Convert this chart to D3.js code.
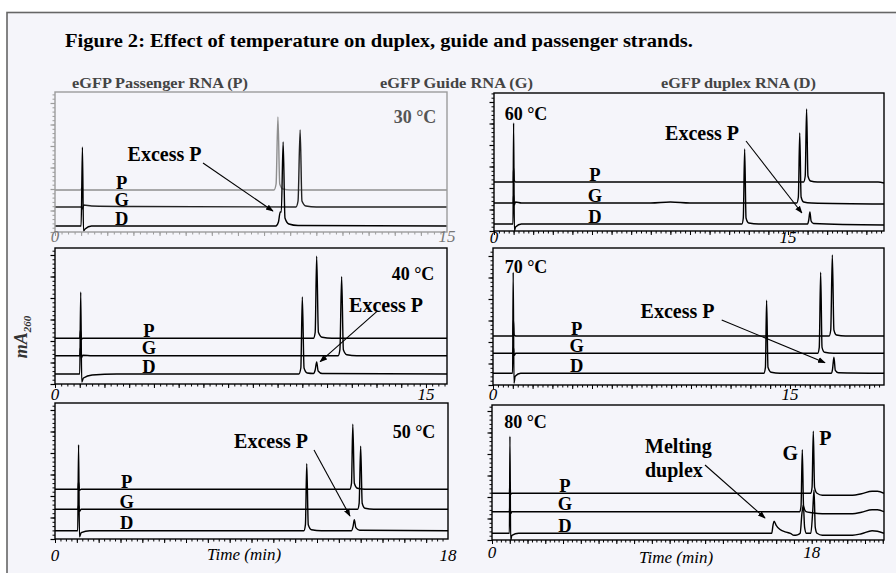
<!DOCTYPE html>
<html><head><meta charset="utf-8">
<script src="https://cdn.jsdelivr.net/npm/d3@7"></script>
<style>body{margin:0;background:#fff}svg{display:block}</style>
</head><body>
<script>
// ---------------- DATA ----------------
const titleText = "Figure 2: Effect of temperature on duplex, guide and passenger strands.";
const headerTexts = ["eGFP Passenger RNA (P)", "eGFP Guide RNA (G)", "eGFP duplex RNA (D)"];
const temps = ["30 °C", "40 °C", "50 °C", "60 °C", "70 °C", "80 °C"];
const strandNames = ["P", "G", "D"];
const timeMax = [15, 15.85, 18, 19.9, 19.75, 22.07];        // min, x extent of each panel
const yMax = [140, 136, 136, 138, 137, 135];                // mA260 (arb.), y extent of each panel
const xTickValues = [[0, 15], [0, 15], [0, 18], [0, 15], [0, 15], [0, 18]];
const xTickLabels = [["0", "15"], ["0", "15"], ["0", "18"], ["0", "15"], ["0", "15"], ["0", "18"]];
const xAxisTitle = "Time (min)";
const yAxisTitle = ["mA", "260"];
// baseline offsets of P, G, D traces in each panel
const baselines = [[42, 25, 6], [45.7, 28.3, 10], [49.7, 29.7, 8.3], [49, 28, 7], [49, 31.7, 11.7], [46.7, 28.3, 6.7]];

// chromatogram traces: [time (min), signal above its own baseline]
const t30_P = [[0,0],[0.98,0],[1.03,2],[1.08,0],[8.38,0],[8.46,6],[8.53,73],[8.6,6],[8.72,1],[9.0,0],[15,0]];
const t30_G = [[0,0],[1.0,0],[1.04,-2],[1.1,2],[1.4,1],[3,0.5],[9.22,0],[9.3,6],[9.38,77],[9.45,6],[9.6,1],[10,0],[15,0]];
const t30_D = [[0,0],[1.0,0],[1.05,79],[1.09,-5],[1.15,-3],[1.4,0],[8.45,0],[8.55,4],[8.62,14],[8.66,14],[8.73,84],[8.8,8],[8.95,2],[9.3,0.5],[15,0]];

const t40_P = [[0,0],[1.0,0],[1.03,8],[1.07,-1],[1.12,0],[10.45,0],[10.52,6],[10.58,82],[10.65,6],[10.8,1],[11.2,0],[15.85,0]];
const t40_G = [[0,0],[1.0,0],[1.03,8],[1.07,-2],[1.12,0.5],[1.5,0],[11.45,0],[11.52,6],[11.59,79],[11.66,6],[11.8,1],[12.2,0],[15.85,0]];
const t40_D = [[0,0],[1.0,0],[1.04,82],[1.08,-8],[1.15,-4],[1.5,-1],[2.5,0],[9.86,0],[9.94,6],[10.0,77],[10.07,6],[10.2,1],[10.45,0.5],[10.52,4],[10.58,12],[10.64,3],[10.8,0.5],[15.85,0]];

const t50_P = [[0,0],[1.05,0],[1.08,7],[1.12,-1],[1.2,0],[13.5,0],[13.58,6],[13.64,65],[13.71,6],[13.85,1],[14.2,0],[18,0]];
const t50_G = [[0,0],[1.05,0],[1.08,4],[1.12,-2],[1.2,0],[13.86,0],[13.93,6],[14.0,63],[14.07,6],[14.2,1],[14.6,0],[18,0]];
const t50_D = [[0,0],[1.04,0],[1.08,86],[1.12,-6],[1.2,-2],[1.6,0],[11.4,0],[11.47,6],[11.53,67],[11.6,6],[11.75,1],[12.2,0],[13.58,0],[13.65,4],[13.71,11],[13.78,3],[13.95,0.5],[18,0]];

const t60_P = [[0,0],[0.98,0],[1.0,14],[1.03,2],[1.1,0],[15.8,0],[15.88,6],[15.95,73],[16.02,6],[16.15,1],[16.5,0],[19.6,0],[19.9,-1]];
const t60_G = [[0,0],[0.98,0],[1.0,8],[1.03,-2],[1.1,1],[1.4,0],[8,0],[9,1],[10,0],[15.45,0],[15.53,6],[15.6,70],[15.67,6],[15.8,1],[16.2,0],[19.9,-1]];
const t60_D = [[0,0],[0.97,0],[1.0,101],[1.04,-7],[1.1,-3],[1.4,0],[12.65,0],[12.72,6],[12.79,75],[12.86,6],[13.0,1],[13.5,0],[16.0,0],[16.06,4],[16.12,12],[16.18,3],[16.3,0.5],[19.9,-1]];

const t70_P = [[0,0],[1.0,0],[1.03,16],[1.07,1],[1.15,0],[16.98,0],[17.06,6],[17.14,81],[17.22,6],[17.35,1],[17.8,0],[19.75,0]];
const t70_G = [[0,0],[1.0,0],[1.03,6],[1.07,-2],[1.15,0],[16.4,0],[16.48,6],[16.55,81],[16.62,6],[16.75,1],[17.2,0],[19.75,0]];
const t70_D = [[0,0],[0.99,0],[1.02,101],[1.06,-10],[1.12,-3],[1.4,0],[13.68,0],[13.76,6],[13.82,73],[13.89,6],[14.05,1],[14.5,0],[17.08,0],[17.15,4],[17.22,16],[17.29,3],[17.45,0.5],[19.75,0]];

const t80_P = [[0,0],[0.98,0],[1.01,11],[1.05,-1],[1.12,0],[17.95,0],[18.02,6],[18.09,62],[18.16,6],[18.3,0],[18.6,-2],[20.3,-2],[20.8,-0.5],[21.4,2],[21.7,2],[22.07,0]];
const t80_G = [[0,0],[0.98,0],[1.01,7],[1.05,-2],[1.12,0],[17.33,0],[17.4,6],[17.47,62],[17.54,6],[17.68,0],[18.0,-1],[18.6,-2],[20.3,-2],[20.8,-0.5],[21.4,2],[21.7,2],[22.07,0]];
const t80_D = [[0,0],[0.98,0],[1.01,97],[1.05,-7],[1.12,-2],[1.5,0],[15.75,0],[15.82,8],[15.88,12],[16.0,8],[16.2,4],[16.5,1.5],[16.8,0],[17.0,-2],[17.2,-1.5],[17.35,0],[17.45,20],[17.53,28],[17.6,6],[17.7,0],[17.95,0],[18.05,20],[18.13,43],[18.2,6],[18.3,0],[18.6,-2],[20.3,-2],[20.8,-0.5],[21.4,2.5],[21.7,2],[22.07,0]];

const traces = [[t30_P,t30_G,t30_D],[t40_P,t40_G,t40_D],[t50_P,t50_G,t50_D],[t60_P,t60_G,t60_D],[t70_P,t70_G,t70_D],[t80_P,t80_G,t80_D]];

// annotations: label text and arrow tip in data coords [time, signal]
const annoTexts = [["Excess P"],["Excess P"],["Excess P"],["Excess P"],["Excess P"],["Melting","duplex"]];
const arrowTips = [[8.34,21],[10.72,22.3],[13.51,23],[15.71,18],[16.77,22.3],[15.37,22]];
const strandLabelTime = [2.55, 3.8, 3.28, 5.15, 4.23, 4.11];
const peakLabels80 = ["G","P"];

// ---------------- LAYOUT ----------------
const W = 896, H = 573;
const layout = [
  {x:55, y:92, w:392, h:140, tempXY:[415,123], annoXY:[[164.5,160.5]], arrowFrom:[203,163], tickY:242},
  {x:55, y:248, w:392, h:136, tempXY:[413,279.5], annoXY:[[386,311.5]], arrowFrom:[376.7,311.7], tickY:400},
  {x:55, y:403, w:393, h:136, tempXY:[414,438], annoXY:[[271,448]], arrowFrom:[314,450], tickY:561, titleT:8.66, titleY:560},
  {x:494, y:93, w:390, h:138, tempXY:[526,119.5], annoXY:[[702,139.5]], arrowFrom:[746,141], tickY:243},
  {x:493, y:248, w:391, h:137, tempXY:[526,273], annoXY:[[677.5,318]], arrowFrom:[721.7,320], tickY:400},
  {x:492, y:405, w:392, h:135, tempXY:[525.5,428], annoXY:[[645,453],[645,476.5]], annoAnchor:"start", arrowFrom:[705,465], tickY:558, titleT:10.36, titleY:563}
];
const serif = "'Liberation Serif','Times New Roman',serif";

const svg = d3.select("body").append("svg").attr("width", W).attr("height", H);
svg.append("rect").attr("width", W).attr("height", H).attr("fill", "#fff");
svg.append("rect").attr("x", 7).attr("y", 12.5).attr("width", W + 20).attr("height", H + 20)
  .attr("fill", "#f5f5fa").attr("stroke", "#666").attr("stroke-width", 1.6);

const defs = svg.append("defs");
defs.append("marker").attr("id", "ah").attr("viewBox", "0 0 10 10").attr("refX", 9).attr("refY", 5)
  .attr("markerWidth", 7).attr("markerHeight", 7).attr("orient", "auto")
  .append("path").attr("d", "M0,1.2L10,5L0,8.8Z").attr("fill", "#000");

svg.append("text").attr("x", 65).attr("y", 47).text(titleText)
  .attr("textLength", 628).attr("lengthAdjust", "spacingAndGlyphs")
  .attr("font-family", serif).attr("font-weight", "bold").attr("font-size", 18.5).attr("fill", "#000");

const headerX = [72, 380, 661];
const headerLen = [176, 153, 155];
headerTexts.forEach((t, i) => {
  svg.append("text").attr("x", headerX[i]).attr("y", 88).text(t)
    .attr("textLength", headerLen[i]).attr("lengthAdjust", "spacingAndGlyphs")
    .attr("font-family", serif).attr("font-weight", "bold").attr("font-size", 15).attr("fill", "#444");
});

// y axis title
const yt = svg.append("text").attr("transform", "translate(27,337) rotate(-90)").attr("text-anchor", "middle")
  .attr("font-family", serif).attr("font-weight", "bold").attr("font-style", "italic").attr("fill", "#333");
yt.append("tspan").attr("font-size", 18).text(yAxisTitle[0]);
yt.append("tspan").attr("font-size", 11).attr("dy", 4).text(yAxisTitle[1]);

traces.forEach((tr, i) => {
  const L = layout[i];
  const g = svg.append("g").attr("transform", `translate(${L.x},${L.y})`);
  const x = d3.scaleLinear().domain([0, timeMax[i]]).range([0, L.w]);
  const y = d3.scaleLinear().domain([0, yMax[i]]).range([L.h, 0]);
  const frameCol = i === 0 ? "#9c9c9c" : "#000";
  const clipId = "clip" + i;
  defs.append("clipPath").attr("id", clipId).append("rect").attr("width", L.w).attr("height", L.h);

  // y ticks (minor & major)
  const yMinor = d3.range(0, yMax[i], 4.3);
  const yMajor = d3.range(0, yMax[i], 21.5);
  g.append("g").call(d3.axisLeft(y).tickValues(yMinor).tickSize(2.5).tickFormat(""))
    .call(a => a.select(".domain").remove()).call(a => a.selectAll("line").attr("stroke", frameCol));
  g.append("g").call(d3.axisLeft(y).tickValues(yMajor).tickSize(4.5).tickFormat(""))
    .call(a => a.select(".domain").remove()).call(a => a.selectAll("line").attr("stroke", frameCol).attr("stroke-width", 1.2));
  // x ticks
  g.append("g").attr("transform", `translate(0,${L.h})`)
    .call(d3.axisBottom(x).tickValues(d3.range(0, timeMax[i], 0.25)).tickSize(2.5).tickFormat(""))
    .call(a => a.select(".domain").remove()).call(a => a.selectAll("line").attr("stroke", frameCol));
  g.append("g").attr("transform", `translate(0,${L.h})`)
    .call(d3.axisBottom(x).tickValues(d3.range(0, timeMax[i], 1)).tickSize(4).tickFormat(""))
    .call(a => a.select(".domain").remove()).call(a => a.selectAll("line").attr("stroke", frameCol));

  // traces
  const cols = i === 0 ? ["#8e8e8e", "#222", "#000"] : ["#000", "#000", "#000"];
  const tg = g.append("g").attr("clip-path", `url(#${clipId})`);
  tr.forEach((pts, k) => {
    const b = baselines[i][k];
    const line = d3.line().x(d => x(d[0])).y(d => y(d[1] + b)).curve(d3.curveMonotoneX);
    tg.append("path").attr("d", line(pts)).attr("fill", "none").attr("stroke", cols[k])
      .attr("stroke-width", 1.4).attr("stroke-linejoin", "round");
  });

  // frame
  g.append("rect").attr("width", L.w).attr("height", L.h).attr("fill", "none")
    .attr("stroke", frameCol).attr("stroke-width", 1.4);

  // strand labels sitting on each trace
  strandNames.forEach((s, k) => {
    g.append("text").attr("x", x(strandLabelTime[i])).attr("y", y(baselines[i][k]) - 1.5)
      .attr("text-anchor", "middle").text(s)
      .attr("font-family", serif).attr("font-weight", "bold").attr("font-size", 18.5).attr("fill", "#000");
  });

  // x tick labels
  xTickValues[i].forEach((v, k) => {
    g.append("text").attr("x", x(v)).attr("y", L.tickY - L.y).attr("text-anchor", "middle")
      .text(xTickLabels[i][k]).attr("font-family", serif).attr("font-style", "italic")
      .attr("font-size", 17).attr("fill", i === 0 ? "#777" : "#000");
  });
  if (L.titleT !== undefined) {
    g.append("text").attr("x", x(L.titleT)).attr("y", L.titleY - L.y).attr("text-anchor", "middle")
      .text(xAxisTitle).attr("font-family", serif).attr("font-style", "italic").attr("font-size", 17).attr("fill", "#000");
  }

  // temperature label
  svg.append("text").attr("x", L.tempXY[0]).attr("y", L.tempXY[1]).attr("text-anchor", "middle").text(temps[i])
    .attr("font-family", serif).attr("font-weight", "bold").attr("font-size", 18).attr("fill", i === 0 ? "#555" : "#000");

  // annotation text
  annoTexts[i].forEach((t, k) => {
    svg.append("text").attr("x", L.annoXY[k][0]).attr("y", L.annoXY[k][1])
      .attr("text-anchor", L.annoAnchor || "middle").text(t)
      .attr("font-family", serif).attr("font-weight", "bold").attr("font-size", 20).attr("fill", "#000");
  });
  // arrow
  const tip = arrowTips[i];
  svg.append("line").attr("x1", L.arrowFrom[0]).attr("y1", L.arrowFrom[1])
    .attr("x2", L.x + x(tip[0])).attr("y2", L.y + y(tip[1]))
    .attr("stroke", "#000").attr("stroke-width", 1.1).attr("marker-end", "url(#ah)");

  if (i === 5) {
    // G and P peak labels
    const peakPos = [[17.47, 62 + baselines[5][1]], [18.09, 62 + baselines[5][0]]];
    const offs = [[-12, 2], [12, 6]];
    peakLabels80.forEach((s, k) => {
      g.append("text").attr("x", x(peakPos[k][0]) + offs[k][0]).attr("y", y(peakPos[k][1]) + offs[k][1] + 8)
        .attr("text-anchor", "middle").text(s)
        .attr("font-family", serif).attr("font-weight", "bold").attr("font-size", 20).attr("fill", "#000");
    });
  }
});
</script>
</body></html>
